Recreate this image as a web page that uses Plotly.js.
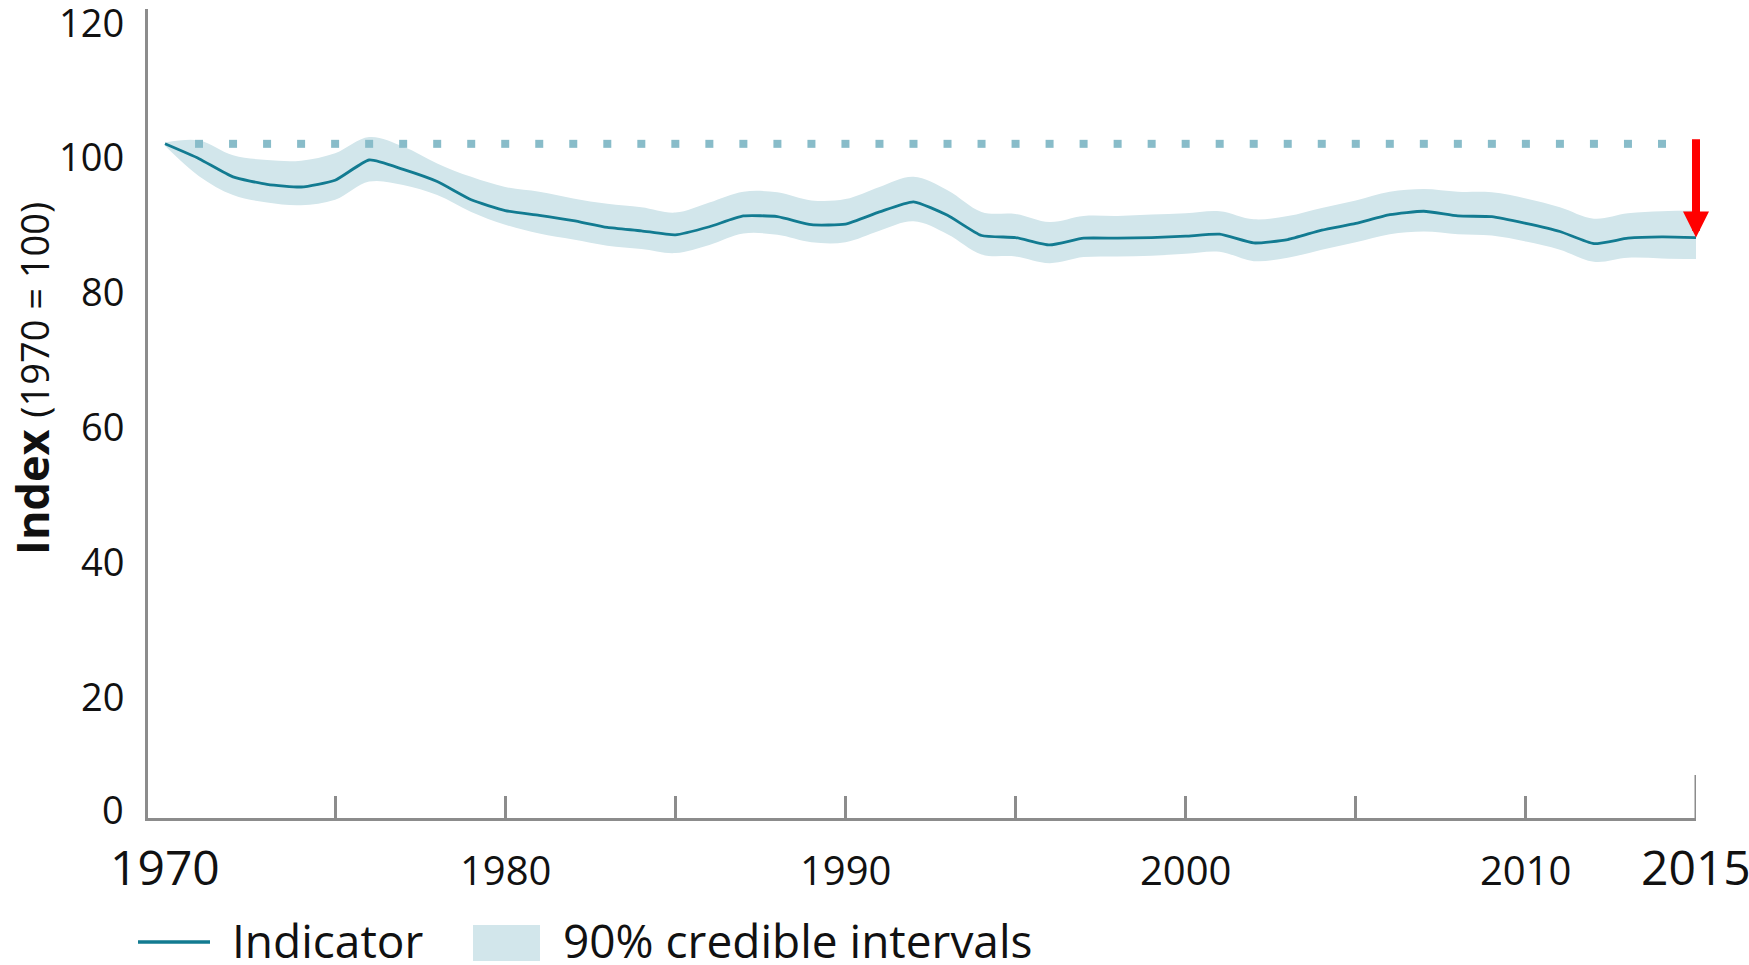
<!DOCTYPE html>
<html>
<head>
<meta charset="utf-8">
<script src="https://cdn.plot.ly/plotly-3.0.1.min.js"></script>
<style>
  html, body { margin: 0; padding: 0; background: #ffffff; }
  #chart { width: 1749px; height: 965px; }
</style>
</head>
<body>
<div id="chart"></div>
<script>
// Annual index values (1970 = 100) with 90% credible interval bounds
const years = [1970, 1971, 1972, 1973, 1974, 1975, 1976, 1977, 1978, 1979,
               1980, 1981, 1982, 1983, 1984, 1985, 1986, 1987, 1988, 1989,
               1990, 1991, 1992, 1993, 1994, 1995, 1996, 1997, 1998, 1999,
               2000, 2001, 2002, 2003, 2004, 2005, 2006, 2007, 2008, 2009,
               2010, 2011, 2012, 2013, 2014, 2015];

const indicator = [100.0, 97.8, 95.1, 94.0, 93.6, 94.6, 97.6, 96.2, 94.4, 91.7,
                   90.1, 89.4, 88.6, 87.6, 87.1, 86.5, 87.7, 89.3, 89.2, 88.0,
                   88.1, 89.9, 91.4, 89.4, 86.4, 86.1, 85.0, 86.0, 86.0, 86.1,
                   86.3, 86.6, 85.3, 85.8, 87.2, 88.2, 89.5, 90.0, 89.3, 89.2,
                   88.2, 87.0, 85.2, 86.0, 86.2, 86.1];

const ciUpper = [100.2, 100.5, 98.3, 97.6, 97.5, 98.6, 101.0, 99.6, 97.1, 95.1,
                 93.6, 92.9, 91.9, 91.1, 90.6, 89.8, 91.3, 92.9, 92.8, 91.6,
                 91.8, 93.6, 95.1, 93.1, 89.9, 89.6, 88.4, 89.3, 89.3, 89.5,
                 89.7, 90.0, 88.8, 89.3, 90.5, 91.6, 92.9, 93.3, 92.9, 92.8,
                 91.9, 90.6, 88.9, 89.7, 90.0, 90.1];

const ciLower = [99.7, 95.2, 92.4, 91.3, 90.9, 91.7, 94.4, 93.9, 92.4, 89.9,
                 88.0, 86.7, 85.8, 84.9, 84.4, 83.8, 85.0, 86.7, 86.5, 85.4,
                 85.4, 87.1, 88.5, 86.6, 83.6, 83.3, 82.3, 83.2, 83.3, 83.4,
                 83.7, 84.0, 82.6, 83.1, 84.3, 85.4, 86.6, 87.0, 86.6, 86.4,
                 85.5, 84.3, 82.5, 83.1, 83.0, 82.9];

const baseline = 100;
const yTickVals = [0, 20, 40, 60, 80, 100, 120];
const xTickVals = [1975, 1980, 1985, 1990, 1995, 2000, 2005, 2010];
const xLabelYears = [1970, 1980, 1990, 2000, 2010, 2015];
const legendLabels = ['Indicator', '90% credible intervals'];
const yTitleMain = 'Index';
const yTitleNote = '(1970 = 100)';

// Styling
const FONT = 'Open Sans, Noto Sans, sans-serif';
const TEXT = '#111111';
const AXIS = '#8c8c8c';
const LINE = '#127b91';
const BAND = '#d2e6eb';
const DOTS = '#88bcc9';
const ARROW = '#ff0000';

const firstYear = years[0];
const lastYear = years[years.length - 1];
const lastValue = indicator[indicator.length - 1];

const traces = [
  { // lower edge of the credible band
    x: years, y: ciLower, type: 'scatter', mode: 'lines',
    line: { width: 0, color: BAND, shape: 'spline', smoothing: 1 },
    hoverinfo: 'skip', showlegend: false
  },
  { // upper edge, filled down to the lower edge
    x: years, y: ciUpper, type: 'scatter', mode: 'lines',
    line: { width: 0, color: BAND, shape: 'spline', smoothing: 1 },
    fill: 'tonexty', fillcolor: BAND,
    hoverinfo: 'skip', showlegend: false
  },
  { // dotted reference level at the base-year value
    x: years.slice(1), y: years.slice(1).map(() => baseline),
    type: 'scatter', mode: 'markers',
    marker: { symbol: 'square', size: 8, color: DOTS },
    hoverinfo: 'skip', showlegend: false
  },
  { // indicator line
    x: years, y: indicator, type: 'scatter', mode: 'lines',
    name: legendLabels[0],
    line: { width: 2.8, color: LINE, shape: 'spline', smoothing: 0.5 },
    showlegend: false
  }
];

// pixel helpers for placing items outside the plot area
const M = { l: 148, r: 53, t: 9, b: 147 };
const W = 1749, H = 965;
const PW = W - M.l - M.r, PH = H - M.t - M.b;
const px2paperX = px => (px - M.l) / PW;
const px2paperY = py => (H - M.b - py) / PH;

const annotations = [];

// y tick labels
yTickVals.forEach(v => {
  annotations.push({
    xref: 'paper', x: 0, xanchor: 'right', xshift: -22,
    yref: 'y', y: v, yanchor: 'middle', yshift: v === 0 ? 9 : -12.5,
    text: String(v), showarrow: false,
    font: { family: FONT, size: 38, color: TEXT }
  });
});

// x tick labels
xLabelYears.forEach(yr => {
  const big = (yr === firstYear || yr === lastYear);
  annotations.push({
    xref: 'x', x: yr, xanchor: 'center',
    yref: 'paper', y: px2paperY(big ? 867 : 869), yanchor: 'middle',
    text: String(yr), showarrow: false,
    font: { family: FONT, size: big ? 48 : 40, color: TEXT }
  });
});

// y axis title
annotations.push({
  xref: 'paper', x: px2paperX(31), xanchor: 'center',
  yref: 'paper', y: px2paperY(379), yanchor: 'middle',
  textangle: -90, showarrow: false,
  text: '<b>' + yTitleMain + '</b> <span style="font-size:38px">' + yTitleNote + '</span>',
  font: { family: FONT, size: 45, color: TEXT }
});

// red arrow from the base level down to the final value
annotations.push({
  xref: 'x', yref: 'y', x: lastYear, y: lastValue,
  axref: 'x', ayref: 'y', ax: lastYear, ay: baseline + 0.9,
  text: '', showarrow: true,
  arrowhead: 2, arrowsize: 0.65, arrowwidth: 8, arrowcolor: ARROW,
  standoff: 0
});

// legend texts
annotations.push({
  xref: 'paper', x: px2paperX(230), xanchor: 'left',
  yref: 'paper', y: px2paperY(940), yanchor: 'middle',
  text: legendLabels[0], showarrow: false,
  font: { family: FONT, size: 46, color: TEXT }
});
annotations.push({
  xref: 'paper', x: px2paperX(561), xanchor: 'left',
  yref: 'paper', y: px2paperY(940), yanchor: 'middle',
  text: legendLabels[1], showarrow: false,
  font: { family: FONT, size: 46, color: TEXT }
});

const shapes = [
  { // tall end tick at the final year
    type: 'line', xref: 'x', yref: 'paper',
    x0: lastYear, x1: lastYear, y0: 0, y1: px2paperY(775),
    line: { color: AXIS, width: 3 }
  },
  { // legend: line sample
    type: 'line', xref: 'paper', yref: 'paper',
    x0: px2paperX(138), x1: px2paperX(210), y0: px2paperY(942), y1: px2paperY(942),
    line: { color: LINE, width: 3.3 }
  },
  { // legend: band sample
    type: 'rect', xref: 'paper', yref: 'paper',
    x0: px2paperX(473), x1: px2paperX(540), y0: px2paperY(961), y1: px2paperY(925),
    fillcolor: BAND, line: { width: 0 }
  }
];

const layout = {
  width: W, height: H,
  margin: M,
  paper_bgcolor: '#ffffff', plot_bgcolor: '#ffffff',
  showlegend: false,
  font: { family: FONT, color: TEXT },
  xaxis: {
    range: [firstYear - 0.5, lastYear],
    showgrid: false, zeroline: false,
    showline: true, linecolor: AXIS, linewidth: 3,
    ticks: 'inside', ticklen: 22, tickwidth: 3, tickcolor: AXIS,
    tickmode: 'array', tickvals: xTickVals,
    showticklabels: false, fixedrange: true
  },
  yaxis: {
    range: [0, 120],
    showgrid: false, zeroline: false,
    showline: true, linecolor: AXIS, linewidth: 3,
    ticks: '', showticklabels: false, fixedrange: true
  },
  annotations: annotations,
  shapes: shapes
};

Plotly.newPlot('chart', traces, layout, { displayModeBar: false, staticPlot: true });
</script>
</body>
</html>
